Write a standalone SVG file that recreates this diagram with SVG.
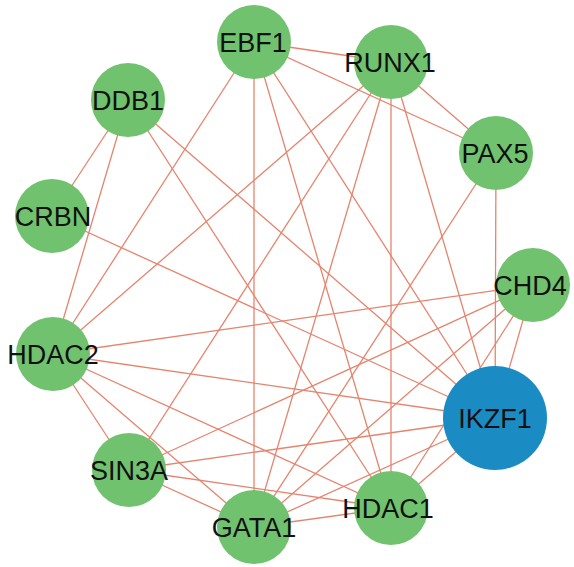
<svg xmlns="http://www.w3.org/2000/svg" width="574" height="567" viewBox="0 0 574 567">
<style>
.e{stroke:#E5846E;stroke-width:1.3;fill:none}
.n{fill:#70C26E}
.h{fill:#1B8BC4}
.t{font-family:"Liberation Sans",Arial,sans-serif;font-size:27px;fill:#111;text-anchor:middle}
</style>
<rect width="574" height="567" fill="#fff"/>
<g id="edges">
<line class="e" x1="254" y1="42" x2="391" y2="62"/>
<line class="e" x1="254" y1="42" x2="496" y2="153"/>
<line class="e" x1="254" y1="42" x2="254" y2="527"/>
<line class="e" x1="254" y1="42" x2="391" y2="508"/>
<line class="e" x1="254" y1="42" x2="495" y2="418"/>
<line class="e" x1="254" y1="42" x2="53" y2="354"/>
<line class="e" x1="391" y1="62" x2="496" y2="153"/>
<line class="e" x1="391" y1="62" x2="53" y2="354"/>
<line class="e" x1="391" y1="62" x2="129" y2="470"/>
<line class="e" x1="391" y1="62" x2="254" y2="527"/>
<line class="e" x1="391" y1="62" x2="391" y2="508"/>
<line class="e" x1="391" y1="62" x2="495" y2="418"/>
<line class="e" x1="128" y1="100" x2="52" y2="216"/>
<line class="e" x1="128" y1="100" x2="53" y2="354"/>
<line class="e" x1="128" y1="100" x2="391" y2="508"/>
<line class="e" x1="128" y1="100" x2="495" y2="418"/>
<line class="e" x1="52" y1="216" x2="495" y2="418"/>
<line class="e" x1="496" y1="153" x2="495" y2="418"/>
<line class="e" x1="496" y1="153" x2="254" y2="527"/>
<line class="e" x1="533" y1="285" x2="53" y2="354"/>
<line class="e" x1="533" y1="285" x2="129" y2="470"/>
<line class="e" x1="533" y1="285" x2="254" y2="527"/>
<line class="e" x1="533" y1="285" x2="391" y2="508"/>
<line class="e" x1="533" y1="285" x2="495" y2="418"/>
<line class="e" x1="53" y1="354" x2="495" y2="418"/>
<line class="e" x1="53" y1="354" x2="391" y2="508"/>
<line class="e" x1="53" y1="354" x2="254" y2="527"/>
<line class="e" x1="53" y1="354" x2="129" y2="470"/>
<line class="e" x1="129" y1="470" x2="495" y2="418"/>
<line class="e" x1="129" y1="470" x2="391" y2="508"/>
<line class="e" x1="129" y1="470" x2="254" y2="527"/>
<line class="e" x1="254" y1="527" x2="391" y2="508"/>
<line class="e" x1="254" y1="527" x2="495" y2="418"/>
<line class="e" x1="391" y1="508" x2="495" y2="418"/>
</g>
<g id="EBF1"><circle class="n" cx="254" cy="42" r="37"/><text class="t" x="253" y="52">EBF1</text></g>
<g id="RUNX1"><circle class="n" cx="391" cy="62" r="37"/><text class="t" x="390" y="72">RUNX1</text></g>
<g id="DDB1"><circle class="n" cx="128" cy="100" r="37"/><text class="t" x="128" y="110">DDB1</text></g>
<g id="PAX5"><circle class="n" cx="496" cy="153" r="37"/><text class="t" x="495" y="163">PAX5</text></g>
<g id="CRBN"><circle class="n" cx="52" cy="216" r="37"/><text class="t" x="53" y="226">CRBN</text></g>
<g id="CHD4"><circle class="n" cx="533" cy="285" r="37"/><text class="t" x="530" y="295">CHD4</text></g>
<g id="HDAC2"><circle class="n" cx="53" cy="354" r="37"/><text class="t" x="53" y="364">HDAC2</text></g>
<g id="IKZF1"><circle class="h" cx="495" cy="418" r="52"/><text class="t" x="495" y="428">IKZF1</text></g>
<g id="SIN3A"><circle class="n" cx="129" cy="470" r="37"/><text class="t" x="129" y="480">SIN3A</text></g>
<g id="HDAC1"><circle class="n" cx="391" cy="508" r="37"/><text class="t" x="388" y="518">HDAC1</text></g>
<g id="GATA1"><circle class="n" cx="254" cy="527" r="37"/><text class="t" x="254" y="537">GATA1</text></g>
</svg>
